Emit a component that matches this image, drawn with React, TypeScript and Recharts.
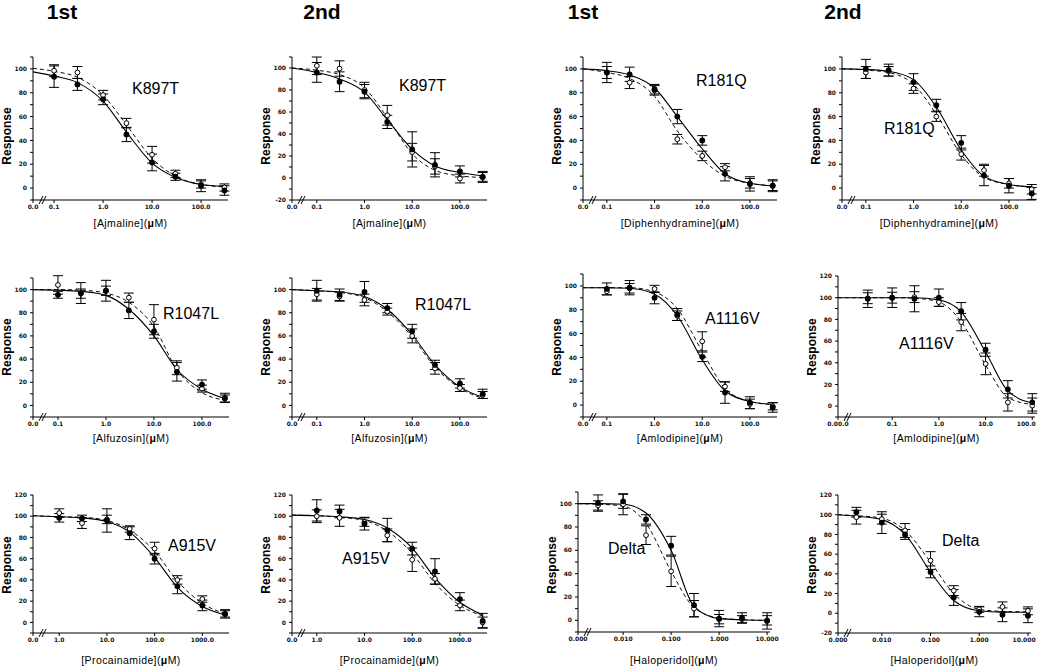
import React from 'react';
import { ComposedChart, Line, Scatter, XAxis, YAxis, ErrorBar, ReferenceLine } from 'recharts';

// ---------- concentrations (µM) ----------
const concMicro = [0.1, 0.3, 1, 3, 10, 30, 100, 300];
const concAmlodipine2 = [0.03, 0.1, 0.3, 1, 3, 10, 30, 100];
const concProcainamide = [1, 3, 10, 30, 100, 300, 1000, 3000];
const concHaloperidol = [0.003, 0.01, 0.03, 0.1, 0.3, 1, 3, 10];

// ---------- tick labels ----------
const xTickConcMicro = [0, 0.1, 1, 10, 100];
const xTickLabelsMicro = ['0.0', '0.1', '1.0', '10.0', '100.0'];
const xTickLabelsAml2 = ['0.00.0', '0.1', '1.0', '10.0', '100.0'];
const xTickConcPro = [0, 1, 10, 100, 1000];
const xTickLabelsPro = ['0.0', '1.0', '10.0', '100.0', '1000.0'];
const xTickConcHal = [0, 0.01, 0.1, 1, 10];
const xTickLabelsHal = ['0.000', '0.010', '0.100', '1.000', '10.000'];

const columnHeaders = ['1st', '2nd', '1st', '2nd'];
const mutantLabels = ['K897T', 'K897T', 'R181Q', 'R181Q', 'R1047L', 'R1047L', 'A1116V', 'A1116V', 'A915V', 'A915V', 'Delta', 'Delta'];
const drugLabels = ['Ajmaline', 'Ajmaline', 'Diphenhydramine', 'Diphenhydramine', 'Alfuzosin', 'Alfuzosin', 'Amlodipine', 'Amlodipine', 'Procainamide', 'Procainamide', 'Haloperidol', 'Haloperidol'];

// ---------- data: filled (solid fit) and open (dashed fit) ----------
// fit arrays: first value is at the control (0.0) position, then one per concentration
const k897t1Filled = [93.5, 87, 74.5, 45, 21.5, 9.5, 2, -2];
const k897t1FilledErr = [9, 5, 4.5, 6, 7, 3, 5, 4];
const k897t1Open = [98.5, 97, 78, 54.5, 28, 12, 3, 0.5];
const k897t1OpenErr = [5, 5, 4, 4, 7, 3, 3, 3];
const k897t1FitSolid = [97.5, 94, 88.5, 73, 47, 21, 9, 3, 1.5];
const k897t1FitDashed = [100.5, 98, 93, 78, 53, 25, 10, 3, 1];

const k897t2Filled = [96, 87.5, 78.5, 51, 26, 12, 6, 1];
const k897t2FilledErr = [9, 9, 6.5, 6, 16, 11, 5, 5];
const k897t2Open = [102, 99.5, 80, 57, 23.5, 10.5, -0.5, 1];
const k897t2OpenErr = [8, 7, 7, 9, 8, 7, 4, 4];
const k897t2FitSolid = [100, 96, 90, 78, 53, 26, 11, 5, 2];
const k897t2FitDashed = [100, 98, 94, 82, 55, 22, 7, 2, 0.5];

const r181q1Filled = [97, 95.5, 83, 60, 40, 12, 3.5, 2];
const r181q1FilledErr = [8.5, 6, 4, 6, 4, 6, 6, 5];
const r181q1Open = [97, 88.5, 82, 41, 27, 17.5, 4, 2];
const r181q1OpenErr = [5, 5, 4, 4, 4, 3, 4, 4];
const r181q1FitSolid = [100, 98.5, 95, 84, 60, 33, 12, 4, 2];
const r181q1FitDashed = [100, 97, 92, 77, 48, 24, 10, 4, 2];

const r181q2Filled = [100, 99, 89, 69.5, 38, 10.5, 2, -4.5];
const r181q2FilledErr = [8, 5, 7, 5, 6, 8.5, 6, 5];
const r181q2Open = [97, 98, 83.5, 60, 28.5, 15, 4, -1];
const r181q2OpenErr = [5, 4, 4, 4, 5, 5, 4, 4];
const r181q2FitSolid = [100, 99.5, 98, 91, 68, 32, 10, 3, 1];
const r181q2FitDashed = [100, 99, 97, 87, 62, 28, 9, 3, 1];

const r1047l1Filled = [95.5, 97, 99, 82, 64, 29, 18, 6.5];
const r1047l1FilledErr = [3, 9, 9, 7, 6, 8, 4, 4];
const r1047l1Open = [104, 96.5, 99, 93, 74, 32.5, 14.5, 6];
const r1047l1OpenErr = [8, 4, 4, 4, 13, 6, 3, 3];
const r1047l1FitSolid = [100, 99.5, 98.5, 95, 83, 60, 31, 14, 6];
const r1047l1FitDashed = [100, 100, 99.5, 97, 89, 68, 31, 11, 4.5];

const r1047l2Filled = [99, 95.5, 98, 84, 64, 35, 19, 10];
const r1047l2FilledErr = [9, 5, 9, 4, 6, 4, 4, 4];
const r1047l2Open = [96, 94, 91, 81, 60, 32, 15, 9];
const r1047l2OpenErr = [5, 4, 5, 3, 6, 5, 3, 3];
const r1047l2FitSolid = [100, 99, 98, 94, 83, 61, 35, 16, 7];
const r1047l2FitDashed = [100, 99, 97.5, 93, 81, 59, 33, 15, 6];

const a1116v1Filled = [97.5, 98.5, 90, 76, 40.5, 10.5, 2, -2];
const a1116v1FilledErr = [5, 6, 5, 5, 4, 9, 5, 4];
const a1116v1Open = [95.5, 98, 97.5, 75, 53.5, 15.5, 1, -1];
const a1116v1OpenErr = [3, 4, 3, 4, 8, 4, 4, 3];
const a1116v1FitSolid = [98.5, 98.5, 98, 93, 75, 38, 12, 3, 0.5];
const a1116v1FitDashed = [98.5, 98.5, 98.5, 95, 81, 45, 14, 3, 0.5];

const a1116v2Filled = [99, 100, 99, 100, 87.5, 52, 15.5, 3.5];
const a1116v2FilledErr = [8, 9, 12, 8, 8, 6, 8, 8];
const a1116v2Open = [99.5, 100, 100.5, 96, 77.5, 39, 3.5, 0.5];
const a1116v2OpenErr = [5, 5, 5, 4, 8, 10, 8, 7];
const a1116v2FitSolid = [100, 100, 100, 100, 98, 87, 50, 14, 3];
const a1116v2FitDashed = [100, 100, 100, 99.5, 96, 78, 38, 8, 1.5];

const a915v1Filled = [98.5, 98, 96, 84, 60, 34, 16, 8];
const a915v1FilledErr = [4, 3, 11, 6, 5, 7, 5, 4];
const a915v1Open = [103, 93.5, 97, 88, 69.5, 40, 22, 8];
const a915v1OpenErr = [4, 5, 4, 3, 6, 4, 3, 3];
const a915v1FitSolid = [100.5, 99.5, 98.5, 95, 85, 61, 33, 15, 7];
const a915v1FitDashed = [100.5, 99.5, 99, 96, 87, 67, 39, 18, 8];

const a915v2Filled = [105.5, 104.5, 93, 87, 69.5, 48, 22, 1.5];
const a915v2FilledErr = [10, 6, 6, 11, 6, 12, 6, 7];
const a915v2Open = [100, 98.5, 94.5, 82, 59, 41, 16, 0];
const a915v2OpenErr = [6, 8, 4, 6, 11, 5, 5, 5];
const a915v2FitSolid = [101, 100.5, 99.5, 97, 89, 70, 42, 19, 7];
const a915v2FitDashed = [101, 100.5, 99, 96, 86, 65, 37, 16, 6];

const delta1Filled = [100.5, 102, 86.5, 64, 13, 1.5, 2, -0.5];
const delta1FilledErr = [7, 6, 4, 8, 10, 7, 4.5, 7];
const delta1Open = [98.5, 99.5, 73, 42, 10, 1, 1, 0];
const delta1OpenErr = [4, 9, 8, 13, 7, 4, 3, 4];
const delta1FitSolid = [100, 100, 99.5, 92, 60, 12, 1.5, 0.5, 0];
const delta1FitDashed = [100, 99.5, 98, 83, 42, 11, 2, 0.5, 0];

const delta2Filled = [102.5, 92, 80, 42, 16, 1.5, -1.5, -2.5];
const delta2FilledErr = [5, 11, 5, 6, 8, 5, 7, 7];
const delta2Open = [97.5, 95.5, 84, 53.5, 23, 4, 6.5, 2.5];
const delta2OpenErr = [7, 5, 7, 9, 5, 3, 5, 4];
const delta2FitSolid = [100, 98.5, 95, 80, 42, 13, 2.5, 1, 1];
const delta2FitDashed = [100, 99, 96.5, 84, 52, 20, 4, 2, 1.5];

const panelSeries = [
  { conc: concMicro, filled: k897t1Filled, filledErr: k897t1FilledErr, open: k897t1Open, openErr: k897t1OpenErr, fitSolid: k897t1FitSolid, fitDashed: k897t1FitDashed, xTickConc: xTickConcMicro, xTickLabels: xTickLabelsMicro },
  { conc: concMicro, filled: k897t2Filled, filledErr: k897t2FilledErr, open: k897t2Open, openErr: k897t2OpenErr, fitSolid: k897t2FitSolid, fitDashed: k897t2FitDashed, xTickConc: xTickConcMicro, xTickLabels: xTickLabelsMicro },
  { conc: concMicro, filled: r181q1Filled, filledErr: r181q1FilledErr, open: r181q1Open, openErr: r181q1OpenErr, fitSolid: r181q1FitSolid, fitDashed: r181q1FitDashed, xTickConc: xTickConcMicro, xTickLabels: xTickLabelsMicro },
  { conc: concMicro, filled: r181q2Filled, filledErr: r181q2FilledErr, open: r181q2Open, openErr: r181q2OpenErr, fitSolid: r181q2FitSolid, fitDashed: r181q2FitDashed, xTickConc: xTickConcMicro, xTickLabels: xTickLabelsMicro },
  { conc: concMicro, filled: r1047l1Filled, filledErr: r1047l1FilledErr, open: r1047l1Open, openErr: r1047l1OpenErr, fitSolid: r1047l1FitSolid, fitDashed: r1047l1FitDashed, xTickConc: xTickConcMicro, xTickLabels: xTickLabelsMicro },
  { conc: concMicro, filled: r1047l2Filled, filledErr: r1047l2FilledErr, open: r1047l2Open, openErr: r1047l2OpenErr, fitSolid: r1047l2FitSolid, fitDashed: r1047l2FitDashed, xTickConc: xTickConcMicro, xTickLabels: xTickLabelsMicro },
  { conc: concMicro, filled: a1116v1Filled, filledErr: a1116v1FilledErr, open: a1116v1Open, openErr: a1116v1OpenErr, fitSolid: a1116v1FitSolid, fitDashed: a1116v1FitDashed, xTickConc: xTickConcMicro, xTickLabels: xTickLabelsMicro },
  { conc: concAmlodipine2, filled: a1116v2Filled, filledErr: a1116v2FilledErr, open: a1116v2Open, openErr: a1116v2OpenErr, fitSolid: a1116v2FitSolid, fitDashed: a1116v2FitDashed, xTickConc: xTickConcMicro, xTickLabels: xTickLabelsAml2 },
  { conc: concProcainamide, filled: a915v1Filled, filledErr: a915v1FilledErr, open: a915v1Open, openErr: a915v1OpenErr, fitSolid: a915v1FitSolid, fitDashed: a915v1FitDashed, xTickConc: xTickConcPro, xTickLabels: xTickLabelsPro },
  { conc: concProcainamide, filled: a915v2Filled, filledErr: a915v2FilledErr, open: a915v2Open, openErr: a915v2OpenErr, fitSolid: a915v2FitSolid, fitDashed: a915v2FitDashed, xTickConc: xTickConcPro, xTickLabels: xTickLabelsPro },
  { conc: concHaloperidol, filled: delta1Filled, filledErr: delta1FilledErr, open: delta1Open, openErr: delta1OpenErr, fitSolid: delta1FitSolid, fitDashed: delta1FitDashed, xTickConc: xTickConcHal, xTickLabels: xTickLabelsHal },
  { conc: concHaloperidol, filled: delta2Filled, filledErr: delta2FilledErr, open: delta2Open, openErr: delta2OpenErr, fitSolid: delta2FitSolid, fitDashed: delta2FitDashed, xTickConc: xTickConcHal, xTickLabels: xTickLabelsHal },
];

// ---------- layout (pixels) ----------
const panelLayout = [
  { axisX: 33, endPx: 228, decPx: 49, x0: -1.43, topPx: 57, botPx: 200, yTop: 110, yBot: -10, lx: 132, ly: 81, xlY: 223, ylY: 136 },
  { axisX: 292, endPx: 487, decPx: 47.7, x0: -1.52, topPx: 57, botPx: 200, yTop: 110, yBot: -20, lx: 399, ly: 78, xlY: 223, ylY: 136 },
  { axisX: 583, endPx: 777, decPx: 47.7, x0: -1.5, topPx: 57, botPx: 200, yTop: 110, yBot: -10, lx: 696, ly: 73, xlY: 223, ylY: 136 },
  { axisX: 842, endPx: 1036, decPx: 47.7, x0: -1.5, topPx: 57, botPx: 200, yTop: 110, yBot: -10, lx: 884, ly: 121, xlY: 223, ylY: 136 },
  { axisX: 33, endPx: 229, decPx: 48, x0: -1.52, topPx: 278, botPx: 417, yTop: 110, yBot: -10, lx: 163, ly: 306, xlY: 438, ylY: 347 },
  { axisX: 292, endPx: 487, decPx: 47.7, x0: -1.52, topPx: 278, botPx: 417, yTop: 110, yBot: -10, lx: 415, ly: 297, xlY: 438, ylY: 347 },
  { axisX: 583, endPx: 777, decPx: 47.7, x0: -1.5, topPx: 274, botPx: 417, yTop: 110, yBot: -10, lx: 705, ly: 311, xlY: 438, ylY: 347 },
  { axisX: 838, endPx: 1035, decPx: 46.7, x0: -2.16, topPx: 276, botPx: 417, yTop: 120, yBot: -10, lx: 899, ly: 336, xlY: 438, ylY: 347 },
  { axisX: 33, endPx: 229, decPx: 47.7, x0: -0.55, topPx: 495, botPx: 633, yTop: 120, yBot: -10, lx: 168, ly: 538, xlY: 660, ylY: 565 },
  { axisX: 292, endPx: 487, decPx: 47.7, x0: -0.52, topPx: 495, botPx: 633, yTop: 120, yBot: -10, lx: 342, ly: 551, xlY: 660, ylY: 565 },
  { axisX: 578, endPx: 770, decPx: 48, x0: -2.94, topPx: 492, botPx: 632, yTop: 110, yBot: -10, lx: 608, ly: 541, xlY: 660, ylY: 565 },
  { axisX: 838, endPx: 1031, decPx: 48.7, x0: -2.9, topPx: 495, botPx: 633, yTop: 120, yBot: -20, lx: 942, ly: 533, xlY: 660, ylY: 565 },
];
const headerCenters = [62, 322, 583, 843];

const PAGE_W = 1039;
const YW = 26;
const MT = 6;
const MR = 16;
const XH = 16;
const FONT = '"Liberation Sans", Arial, Helvetica, sans-serif';
const TICK_FS = 6;
const tickStyle = { fontSize: TICK_FS, fontWeight: 700, fill: '#111', fontFamily: '"DejaVu Sans", sans-serif' };

const FilledDot = (p: any) => <circle cx={p.cx} cy={p.cy} r={2.9} fill="#000" />;
const OpenDot = (p: any) => <circle cx={p.cx} cy={p.cy} r={2.4} fill="#fff" stroke="#000" strokeWidth={1} />;

function Panel({ cfg, s }: { cfg: any; s: any }) {
  const { axisX, endPx, decPx, x0, topPx, botPx, yTop, yBot } = cfg;
  const xEnd = x0 + (endPx - axisX) / decPx;
  const plotW = endPx - axisX;
  const plotH = botPx - topPx;
  const width = YW + plotW + MR;
  const height = MT + plotH + XH;
  const chartLeft = axisX - YW;
  const toX = (c: number) => (c === 0 ? x0 : Math.log10(c));
  const pts = (vals: number[], errs: number[]) => s.conc.map((c: number, i: number) => ({ x: toX(c), y: vals[i], err: errs[i] }));
  const curve = (vals: number[]) => [0, ...s.conc].map((c: number, i: number) => ({ x: toX(c), y: vals[i] }));
  const yTicks: number[] = [];
  for (let v = yBot; v <= yTop; v += 10) yTicks.push(v);
  const xTicks = s.xTickConc.map(toX);
  const dxPx = (xEnd - x0) / plotW;
  const dyPx = (yTop - yBot) / plotH;
  const slash = (off: number) => [
    { x: x0 + (off - 2) * dxPx, y: yBot - 4 * dyPx },
    { x: x0 + (off + 2) * dxPx, y: yBot + 4 * dyPx },
  ];
  const XTick = (p: any) => {
    const v = p.payload?.value;
    const k = xTicks.findIndex((t: number) => Math.abs(t - v) < 1e-6);
    const label = s.xTickLabels[k >= 0 ? k : p.index] ?? '';
    const halfW = label.length * TICK_FS * 0.36;
    const maxX = PAGE_W - 2 - chartLeft - halfW;
    const tx = Math.min(p.x, maxX);
    return (
      <text x={tx} y={p.y} dy="0.71em" textAnchor="middle" {...tickStyle}>
        {label}
      </text>
    );
  };
  return (
    <div style={{ position: 'absolute', left: chartLeft, top: topPx - MT }}>
      <ComposedChart width={width} height={height} margin={{ top: MT, right: MR, bottom: 0, left: 0 }}>
        <XAxis
          type="number"
          dataKey="x"
          domain={[x0, xEnd]}
          allowDataOverflow
          ticks={xTicks}
          interval={0}
          tick={XTick}
          tickSize={3}
          tickMargin={2}
          height={XH}
          axisLine={{ stroke: '#000' }}
          tickLine={{ stroke: '#000' }}
        />
        <YAxis
          type="number"
          dataKey="y"
          domain={[yBot, yTop]}
          allowDataOverflow
          ticks={yTicks}
          interval={0}
          tickFormatter={(v: number) => (v % 20 === 0 ? String(v) : '')}
          tick={tickStyle}
          tickSize={3}
          tickMargin={3}
          width={YW}
          axisLine={{ stroke: '#000' }}
          tickLine={{ stroke: '#000' }}
        />
        <ReferenceLine segment={slash(8)} stroke="#000" strokeWidth={1} ifOverflow="visible" />
        <ReferenceLine segment={slash(11)} stroke="#000" strokeWidth={1} ifOverflow="visible" />
        <Line data={curve(s.fitDashed)} dataKey="y" type="monotone" stroke="#111" strokeWidth={1} strokeDasharray="4 3" dot={false} activeDot={false} isAnimationActive={false} />
        <Line data={curve(s.fitSolid)} dataKey="y" type="monotone" stroke="#000" strokeWidth={1.1} dot={false} activeDot={false} isAnimationActive={false} />
        <Scatter data={pts(s.open, s.openErr)} dataKey="y" shape={OpenDot} isAnimationActive={false}>
          <ErrorBar dataKey="err" direction="y" width={5} stroke="#000" strokeWidth={1} />
        </Scatter>
        <Scatter data={pts(s.filled, s.filledErr)} dataKey="y" shape={FilledDot} isAnimationActive={false}>
          <ErrorBar dataKey="err" direction="y" width={5} stroke="#000" strokeWidth={1} />
        </Scatter>
      </ComposedChart>
    </div>
  );
}

export default function App() {
  return (
    <div style={{ position: 'absolute', left: 0, top: 0, width: PAGE_W, height: 667, background: '#fff', overflow: 'hidden', fontFamily: FONT, color: '#000' }}>
      {columnHeaders.map((h, i) => (
        <div key={'h' + i} style={{ position: 'absolute', left: headerCenters[i] - 40, width: 80, top: 1, textAlign: 'center', fontSize: 21, fontWeight: 700, lineHeight: '22px' }}>
          {h}
        </div>
      ))}
      {panelLayout.map((cfg, i) => (
        <React.Fragment key={'p' + i}>
          <Panel cfg={cfg} s={panelSeries[i]} />
          <div style={{ position: 'absolute', left: cfg.lx, top: cfg.ly, fontSize: 16, lineHeight: '16px', whiteSpace: 'nowrap' }}>{mutantLabels[i]}</div>
          <div style={{ position: 'absolute', left: (cfg.axisX + cfg.endPx) / 2, top: cfg.xlY, transform: 'translate(-50%, -50%)', fontSize: 10.5, letterSpacing: 0.4, whiteSpace: 'nowrap' }}>
            [{drugLabels[i]}](<b>μ</b>M)
          </div>
          <div style={{ position: 'absolute', left: cfg.axisX - 26, top: cfg.ylY, transform: 'translate(-50%, -50%) rotate(-90deg)', fontSize: 12, fontWeight: 700, whiteSpace: 'nowrap' }}>
            Response
          </div>
        </React.Fragment>
      ))}
    </div>
  );
}
